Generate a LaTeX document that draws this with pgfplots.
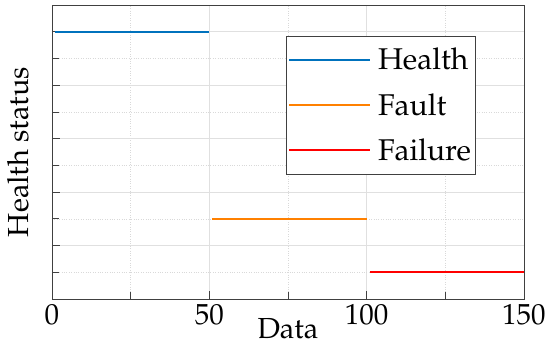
\documentclass[border=0pt]{standalone}
\usepackage[T1]{fontenc}
\usepackage{mathpazo}
\usepackage{pgfplots}
\pgfplotsset{compat=1.18}
\definecolor{cblue}{RGB}{0,114,189}
\definecolor{corange}{RGB}{255,128,0}
\definecolor{cred}{RGB}{255,0,0}
\definecolor{axc}{RGB}{64,64,64}
\begin{document}
\begin{tikzpicture}
\path[use as bounding box] (-52pt,-48pt) rectangle (498pt,299pt);
\begin{axis}[
  at={(0pt,0pt)}, anchor=south west,
  scale only axis, width=472pt, height=294pt,
  xmin=0, xmax=150, ymin=0, ymax=11,
  xtick={0,50,100,150}, minor xtick={25,75,125},
  ytick={0,2,4,6,8,10}, minor ytick={1,3,5,7,9},
  yticklabels={},
  tick pos=left, tick align=inside,
  major tick length=8pt, minor tick length=7pt,
  every tick/.style={axc, line width=0.8pt},
  axis line style={axc, line width=0.8pt},
  grid=both,
  major grid style={black!12, line width=0.5pt},
  minor grid style={black!15, dotted, line width=0.5pt},
  /pgf/number format/assume math mode=true,
  every tick label/.append style={font=\fontsize{29}{34}\selectfont},
  xticklabel style={anchor=base, yshift=-26pt},
  xlabel={Data},
  ylabel={Health status},
  label style={font=\fontsize{29}{34}\selectfont},
  xlabel style={at={(axis description cs:0.5,0)}, anchor=base, yshift=-40pt},
  ylabel style={at={(axis description cs:-0.0508,0.5)}, anchor=base, rotate=0},
  legend style={at={(axis description cs:0.496,0.8946)}, anchor=north west,
    draw=axc, line width=0.6pt, fill=white,
    font=\fontsize{30}{35}\selectfont, row sep=18pt,
    inner xsep=2pt, inner ysep=10pt,
    /tikz/every odd column/.append style={column sep=5pt}},
  legend cell align=left,
  legend image code/.code={\draw[#1, line width=1.6pt] (0pt,0pt) -- (81pt,0pt);},
]
\addplot[cblue, line width=1.6pt] coordinates {(1,10) (50,10)};
\addlegendentry{Health}
\addplot[corange, line width=1.6pt] coordinates {(51,3) (100,3)};
\addlegendentry{Fault}
\addplot[cred, line width=1.6pt] coordinates {(101,1) (150,1)};
\addlegendentry{Failure}
\end{axis}
\end{tikzpicture}
\end{document}
